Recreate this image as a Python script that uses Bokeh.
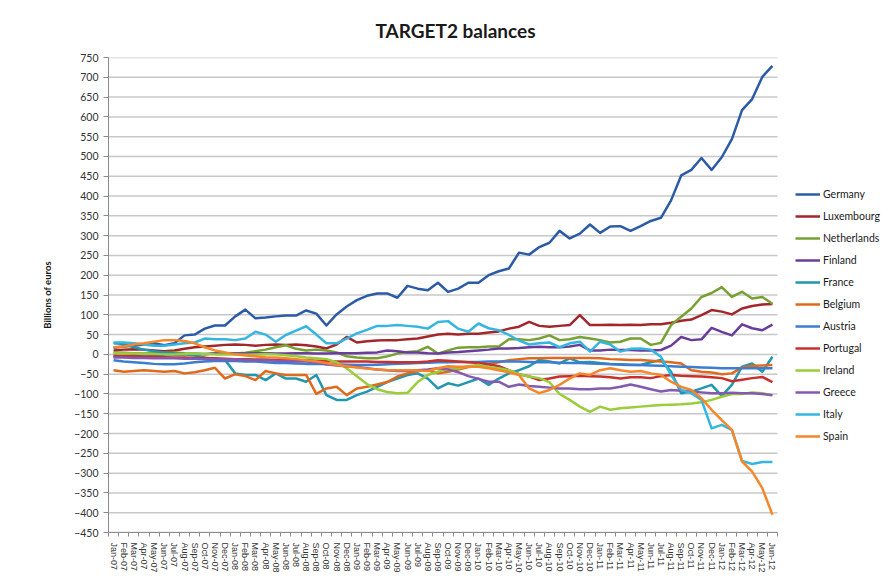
from bokeh.plotting import figure
from bokeh.models import Legend, LegendItem, FixedTicker, Range1d, AllLabels
from bokeh.embed import file_html
from bokeh.resources import INLINE

month_names = ["Jan", "Feb", "Mar", "Apr", "May", "Jun", "Jul", "Aug", "Sep", "Oct", "Nov", "Dec"]
years = ["07", "08", "09", "10", "11", "12"]
months = [f"{m}-{y}" for y in years for m in month_names][:66]

germany = [17, 20, 22, 25, 28, 23, 28, 48, 50, 65, 73, 73,
           96, 113, 91, 93, 96, 98, 98, 111, 103, 73, 101, 121,
           137, 148, 154, 154, 143, 173, 166, 162, 181, 158, 166, 181,
           181, 200, 210, 217, 257, 252, 271, 282, 312, 293, 305, 328,
           307, 323, 324, 312, 324, 337, 345, 389, 452, 466, 496, 466,
           498, 544, 617, 645, 701, 729]
luxembourg = [10, 12, 13, 12, 10, 8, 10, 14, 18, 20, 22, 24,
              25, 24, 22, 24, 25, 24, 25, 23, 20, 15, 25, 44,
              30, 33, 35, 36, 36, 38, 40, 45, 50, 52, 50, 52,
              52, 55, 58, 65, 70, 82, 72, 70, 72, 74, 99, 74,
              74, 75, 74, 75, 74, 76, 76, 80, 85, 88, 99, 112,
              108, 101, 116, 122, 126, 127]
netherlands = [5, 4, 3, 2, 3, 4, 5, 3, 2, 0, 2, 3,
               2, 4, 8, 12, 18, 23, 14, 10, 12, 10, 5, -5,
               -8, -10, -10, -5, 2, 6, 8, 19, 2, 10, 17, 18,
               18, 20, 20, 38, 38, 36, 40, 48, 36, 38, 44, 40,
               36, 30, 32, 40, 40, 24, 29, 74, 95, 116, 145, 155,
               170, 145, 158, 141, 145, 128]
finland = [-6, -4, -3, -2, -2, -1, 0, 0, 1, 1, 2, 2,
           2, 2, 3, 3, 2, 2, 3, 3, 2, 2, 3, 3,
           3, 4, 5, 10, 8, 5, 5, 3, 2, 5, 6, 8,
           10, 12, 15, 15, 16, 18, 19, 18, 18, 20, 24, 10,
           10, 12, 11, 11, 10, 10, 11, 22, 44, 36, 38, 67,
           57, 48, 76, 66, 61, 75]
france = [28, 26, 18, 12, 8, 5, 2, 0, -3, -8, -12, -14,
          -48, -52, -52, -65, -48, -61, -61, -69, -52, -103, -115, -115,
          -103, -94, -82, -70, -61, -52, -48, -61, -86, -73, -79, -70,
          -61, -77, -61, -48, -40, -30, -14, -18, -23, -10, -20, -19,
          -22, -24, -25, -26, -27, -20, -14, -44, -98, -94, -86, -77,
          -105, -77, -31, -23, -44, -6]
belgium = [-40, -44, -42, -40, -42, -44, -42, -48, -45, -40, -34, -61,
           -50, -55, -65, -42, -48, -52, -52, -52, -100, -86, -82, -103,
           -86, -82, -76, -70, -56, -48, -42, -40, -48, -44, -38, -32,
           -30, -25, -20, -15, -12, -10, -10, -9, -9, -9, -9, -9,
           -10, -12, -13, -14, -14, -16, -18, -20, -23, -40, -44, -46,
           -50, -48, -33, -29, -28, -27]
austria = [-15, -18, -20, -22, -24, -25, -25, -23, -20, -18, -17, -16,
           -17, -18, -18, -20, -22, -22, -23, -24, -24, -25, -25, -26,
           -27, -27, -26, -25, -24, -23, -22, -21, -20, -20, -19, -19,
           -19, -18, -18, -18, -18, -19, -20, -20, -21, -22, -22, -23,
           -24, -25, -26, -27, -27, -28, -29, -30, -31, -32, -33, -34,
           -35, -35, -35, -35, -35, -35]
portugal = [-3, -4, -5, -6, -6, -7, -8, -8, -9, -10, -10, -11,
            -12, -12, -13, -13, -14, -14, -15, -15, -16, -17, -18, -18,
            -18, -18, -19, -19, -20, -20, -20, -18, -15, -16, -18, -20,
            -22, -25, -30, -40, -50, -56, -65, -61, -56, -55, -54, -55,
            -56, -58, -61, -58, -58, -60, -55, -52, -54, -55, -56, -58,
            -60, -68, -64, -60, -57, -70]
ireland = [3, 2, 2, 1, 1, 0, 0, 1, 2, 1, 0, 0,
           0, -1, 0, 1, 0, -2, -5, -8, -10, -12, -20, -35,
           -55, -75, -88, -95, -98, -97, -70, -52, -44, -35, -35, -30,
           -27, -32, -35, -40, -50, -56, -60, -70, -100, -115, -132, -145,
           -132, -140, -136, -134, -132, -130, -128, -127, -126, -124, -121, -115,
           -107, -100, -100, -96, -98, -103]
greece = [-8, -8, -9, -9, -10, -10, -10, -11, -11, -12, -12, -13,
          -13, -14, -15, -15, -16, -17, -18, -18, -20, -25, -28, -30,
          -32, -35, -38, -40, -42, -42, -40, -38, -35, -38, -45, -55,
          -62, -69, -69, -82, -76, -80, -82, -84, -86, -86, -88, -88,
          -86, -86, -82, -76, -82, -88, -94, -90, -92, -94, -96, -98,
          -98, -97, -98, -98, -100, -103]
italy = [30, 30, 28, 25, 22, 22, 25, 28, 30, 40, 38, 38,
         36, 40, 57, 50, 32, 49, 60, 71, 50, 28, 28, 40,
         53, 62, 72, 72, 74, 72, 70, 65, 82, 84, 65, 57,
         78, 66, 61, 49, 35, 25, 28, 30, 18, 28, 32, 7,
         32, 25, 7, 14, 15, 12, -6, -52, -90, -98, -115, -187,
         -178, -191, -269, -277, -272, -272]
spain = [18, 20, 25, 28, 32, 36, 36, 34, 28, 18, 10, 5,
         0, -3, -5, -7, -8, -10, -12, -15, -18, -22, -27, -30,
         -33, -36, -38, -40, -40, -40, -41, -42, -35, -30, -31, -31,
         -31, -35, -40, -45, -52, -86, -98, -90, -77, -61, -48, -52,
         -40, -35, -40, -44, -42, -48, -52, -69, -82, -90, -111, -140,
         -166, -191, -270, -296, -338, -405]

series_names = ["Germany", "Luxembourg", "Netherlands", "Finland", "France", "Belgium",
                "Austria", "Portugal", "Ireland", "Greece", "Italy", "Spain"]
series_values = [germany, luxembourg, netherlands, finland, france, belgium,
                 austria, portugal, ireland, greece, italy, spain]
series_colors = ["#2B5BA6", "#A3262A", "#77A033", "#6A3D9A", "#2196B0", "#E06A1B",
                 "#3A7DD1", "#C8302C", "#9ACD3A", "#8459B0", "#35B6E0", "#F7862A"]
y_ticks = list(range(-450, 751, 50))

for v in series_values:
    assert len(v) == len(months)

n = len(months)
xs = list(range(n))

# layout: data area spans 669 px; the frame is widened to host the legend
W, H = 892, 575
left, right, top, bottom = 108, 2, 57, 42
frame_w = W - left - right
data_px = 669
x_start = -0.5
x_end = x_start + n * frame_w / data_px
x_data_end = n - 0.5

p = figure(width=W, height=H, x_range=Range1d(x_start, x_end), y_range=Range1d(-450, 750),
           output_backend="svg", toolbar_location=None,
           min_border_left=left, min_border_right=right, min_border_top=top, min_border_bottom=bottom)

p.title.text = "TARGET2 balances"
p.title.align = "left"
p.title.offset = 267
p.title.text_font = "Lato"
p.title.text_font_size = "19px"
p.title.text_font_style = "bold"
p.title.text_color = "#1a1a1a"
p.title.standoff = 31

p.outline_line_color = None
p.xgrid.visible = False
p.ygrid.visible = False

# horizontal gridlines limited to the data area
p.segment(x0=[x_start] * len(y_ticks), x1=[x_data_end] * len(y_ticks), y0=y_ticks, y1=y_ticks,
          line_color="#c8c8c8", line_width=1.5)

p.yaxis.ticker = FixedTicker(ticks=y_ticks)
p.yaxis.axis_label = "Billions of euros"
p.yaxis.axis_label_text_font = "Lato"
p.yaxis.axis_label_text_font_size = "9.5px"
p.yaxis.axis_label_text_font_style = "bold"
p.yaxis.axis_label_text_color = "#1a1a1a"
p.yaxis.axis_label_standoff = 18
p.yaxis.major_label_text_font = "Lato"
p.yaxis.major_label_text_font_size = "10.5px"
p.yaxis.major_label_text_color = "#333333"
p.yaxis.major_label_standoff = 5
p.yaxis.major_tick_out = 5
p.yaxis.major_tick_in = 0
p.yaxis.minor_tick_line_color = None

p.xaxis.ticker = FixedTicker(ticks=xs, minor_ticks=[i - 0.5 for i in range(n + 1)])
p.xaxis.major_label_overrides = {i: m for i, m in enumerate(months)}
p.xaxis.major_label_policy = AllLabels()
p.xaxis.bounds = (x_start, x_data_end)
p.xaxis.major_label_orientation = "vertical"
p.xaxis.major_label_text_font = "Liberation Sans"
p.xaxis.major_label_text_font_size = "9px"
p.xaxis.major_label_text_color = "#333333"
p.xaxis.major_label_standoff = 6
p.xaxis.major_tick_out = 0
p.xaxis.major_tick_in = 0
p.xaxis.minor_tick_out = 4
p.xaxis.minor_tick_in = 0

for ax in (p.xaxis[0], p.yaxis[0]):
    ax.axis_line_color = "#8a8a8a"
    ax.major_tick_line_color = "#8a8a8a"
p.xaxis.minor_tick_line_color = "#8a8a8a"

items = []
for name, vals, col in zip(series_names, series_values, series_colors):
    r = p.line(xs, vals, line_color=col, line_width=2.5, line_join="round")
    items.append(LegendItem(label=name, renderers=[r]))

legend = Legend(items=items, location=(687, 86))
legend.background_fill_alpha = 0
legend.border_line_alpha = 0
legend.padding = 0
legend.margin = 0
legend.spacing = 2
legend.glyph_height = 20
legend.glyph_width = 25
legend.label_height = 20
legend.label_standoff = 3
legend.label_text_font = "Lato"
legend.label_text_font_size = "10.5px"
legend.label_text_color = "#1a1a1a"
p.add_layout(legend)

open("out.html", "w").write(file_html(p, INLINE))
